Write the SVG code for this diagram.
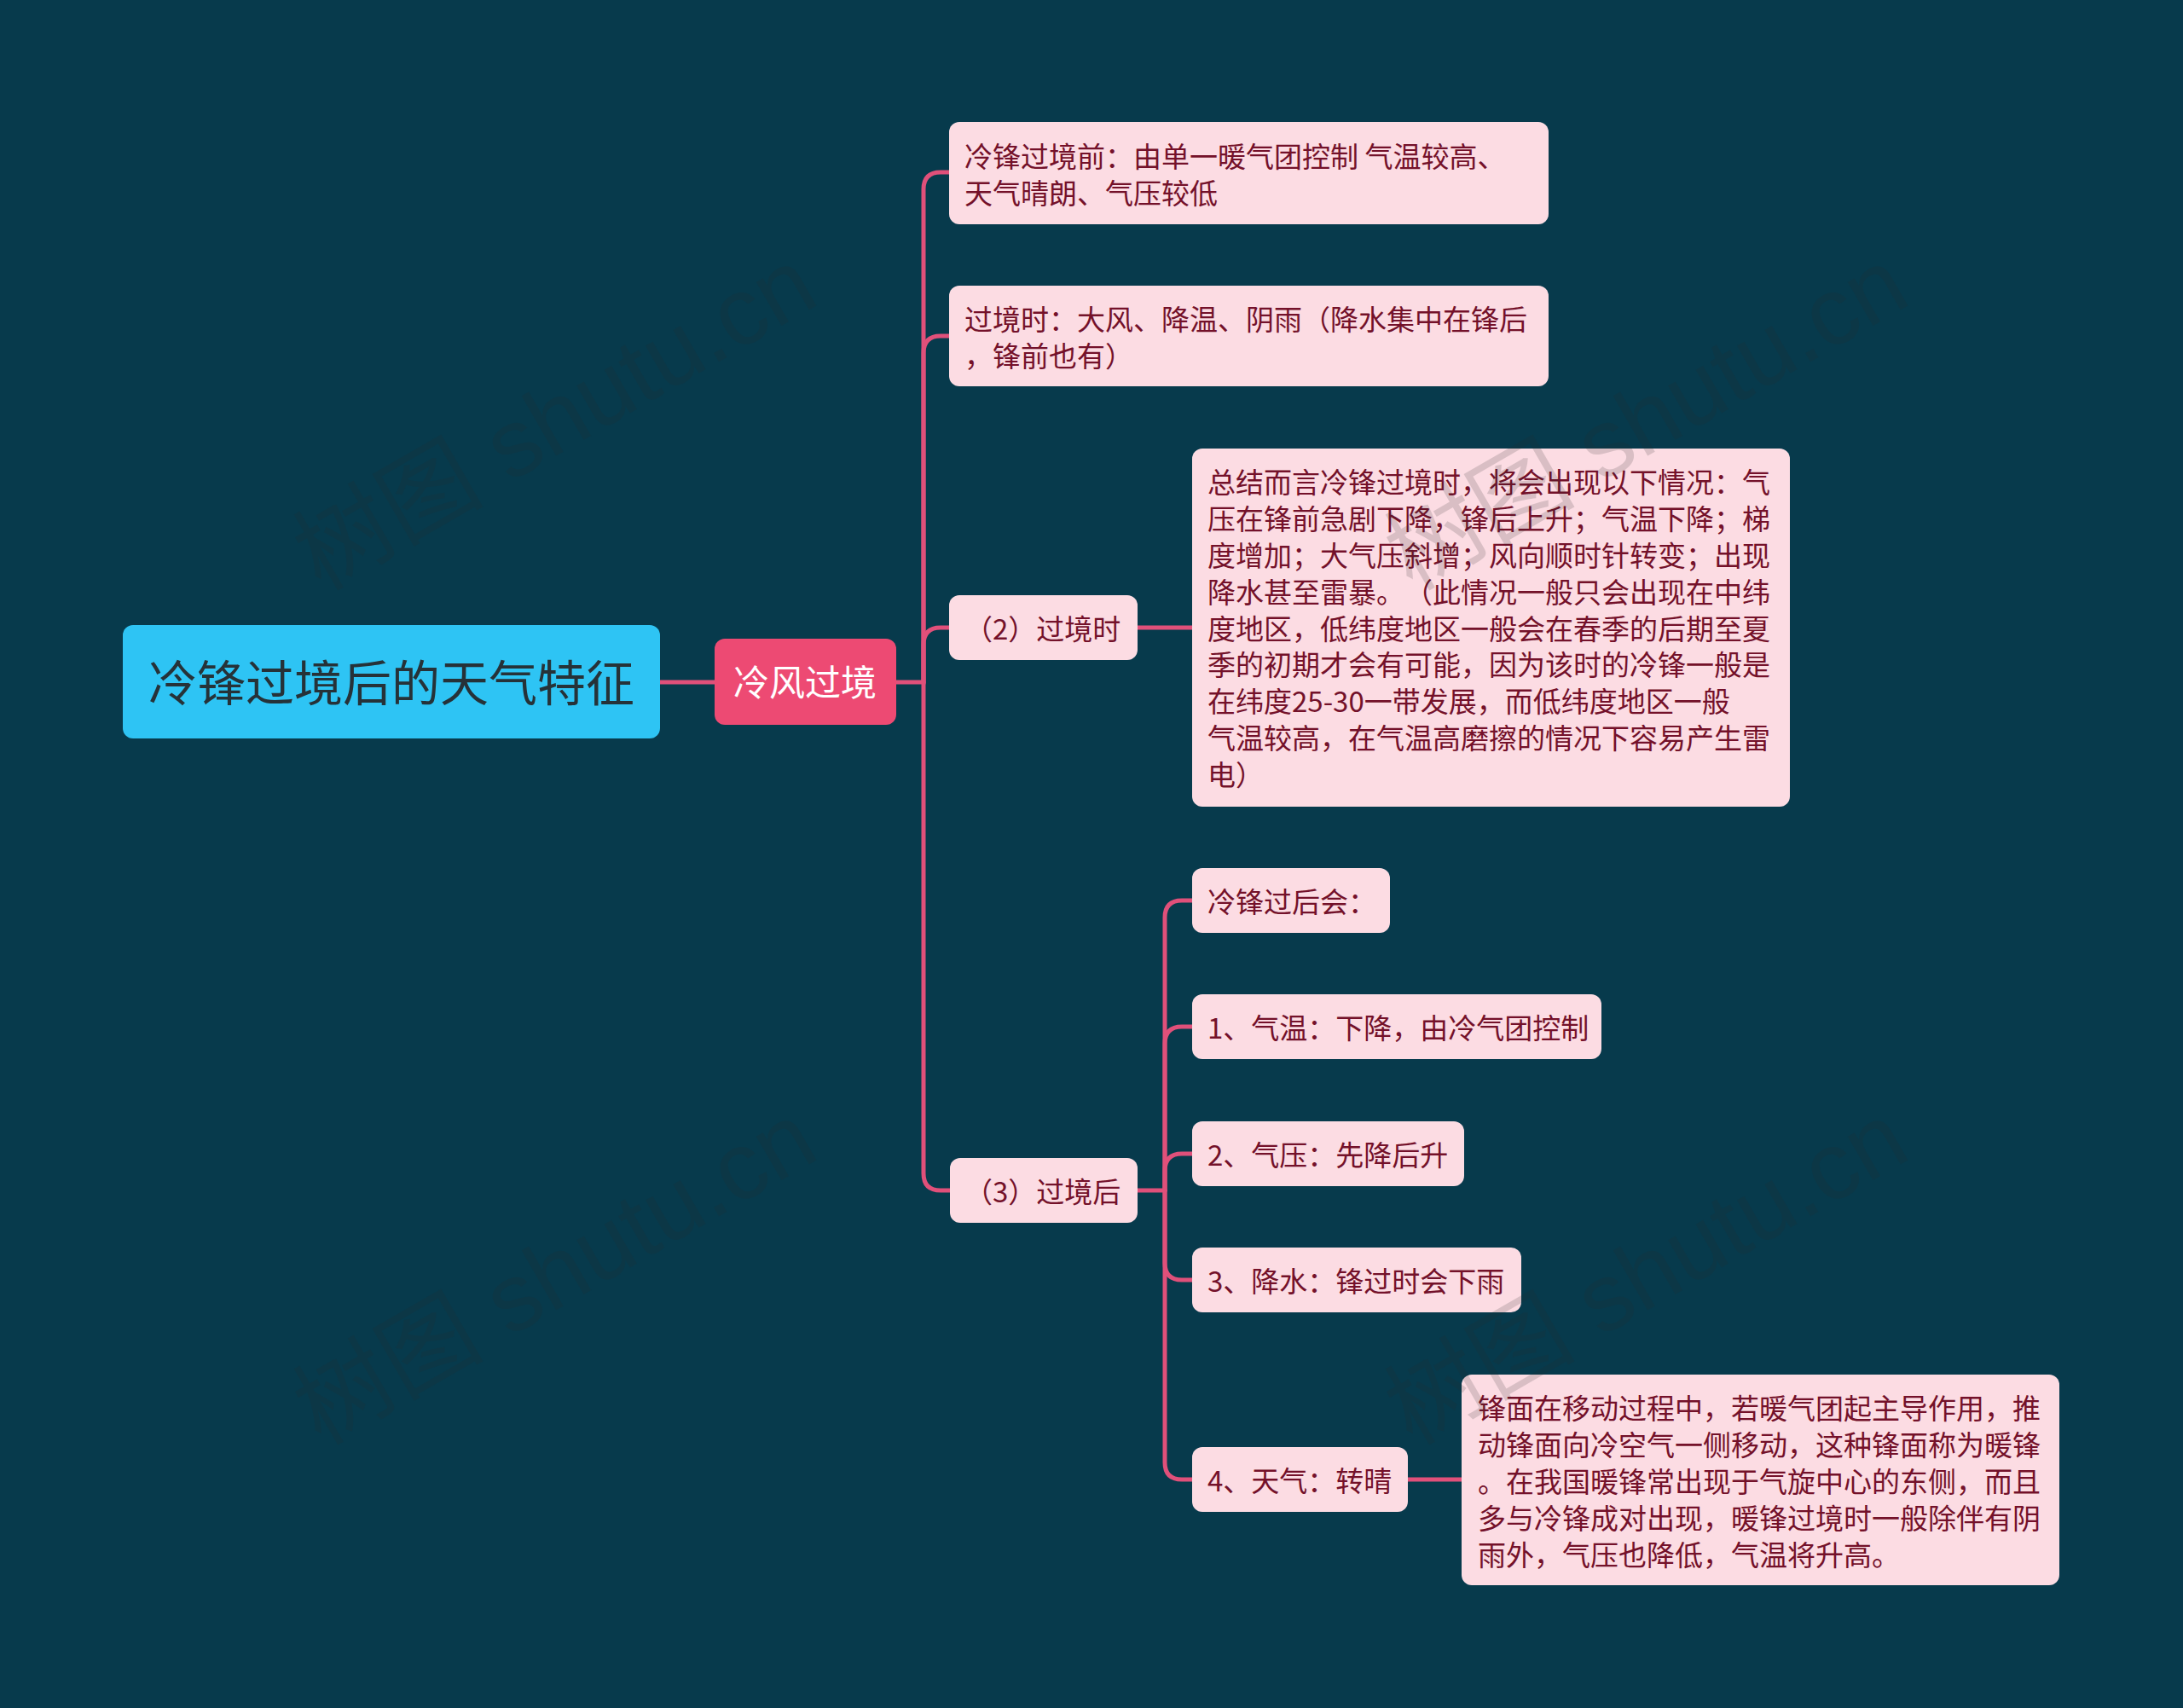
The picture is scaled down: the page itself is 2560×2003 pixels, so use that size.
<svg xmlns="http://www.w3.org/2000/svg" width="2560" height="2003" viewBox="0 0 2560 2003">
<style>
.t{font-family:"Noto Sans CJK SC","Liberation Sans",sans-serif;dominant-baseline:central;text-spacing-trim:space-all}
.leaf{fill:#FCDCE3}
.lt{font-size:33px;fill:#74112A}
.c{fill:none;stroke:#E0507A;stroke-width:5;stroke-linecap:round}
.wm{font-family:"Liberation Sans","Noto Sans CJK SC",sans-serif;font-size:112px;fill:#2a2a2a;opacity:0.16}
</style>
<rect x="0" y="0" width="2560" height="2003" fill="#073A4C"/>
<g id="connectors">
<path class="c" d="M774 800 H838"/>
<path class="c" d="M1051 800 H1083 V222 Q1083 202 1103 202 H1113"/>
<path class="c" d="M1083 800 V414 Q1083 394 1103 394 H1113"/>
<path class="c" d="M1083 800 V756 Q1083 736 1103 736 H1113"/>
<path class="c" d="M1083 800 V1376 Q1083 1396 1103 1396 H1114"/>
<path class="c" d="M1334 736 H1398"/>
<path class="c" d="M1334 1396 H1366"/>
<path class="c" d="M1366 1396 V1076 Q1366 1056 1386 1056 H1398"/>
<path class="c" d="M1366 1396 V1224 Q1366 1204 1386 1204 H1398"/>
<path class="c" d="M1366 1396 V1373 Q1366 1353 1386 1353 H1398"/>
<path class="c" d="M1366 1396 V1481 Q1366 1501 1386 1501 H1398"/>
<path class="c" d="M1366 1396 V1715 Q1366 1735 1386 1735 H1398"/>
<path class="c" d="M1651 1735 H1714"/>
</g>
<g id="root">
<rect x="144" y="733" width="630" height="133" rx="12" fill="#2EC4F4"/>
<text class="t" x="174" y="797" font-size="57" fill="#263238">冷锋过境后的天气特征</text>
</g>
<g id="n-lengfeng">
<rect x="838" y="749" width="213" height="101" rx="12" fill="#ED4A73"/>
<text class="t" x="860" y="797" font-size="42" fill="#FFFFFF">冷风过境</text>
</g>
<g id="n-before">
<rect class="leaf" x="1113" y="143" width="703" height="120" rx="12"/>
<text class="t lt" x="1131" y="182">冷锋过境前：由单一暖气团控制 气温较高、</text>
<text class="t lt" x="1131" y="225">天气晴朗、气压较低</text>
</g>
<g id="n-during-desc">
<rect class="leaf" x="1113" y="335" width="703" height="118" rx="12"/>
<text class="t lt" x="1131" y="373">过境时：大风、降温、阴雨（降水集中在锋后</text>
<text class="t lt" x="1131" y="416">，锋前也有）</text>
</g>
<g id="n-during">
<rect class="leaf" x="1113" y="698" width="221" height="76" rx="12"/>
<text class="t lt" x="1131" y="736">（2）过境时</text>
</g>
<g id="n-summary">
<rect class="leaf" x="1398" y="526" width="701" height="420" rx="12"/>
<text class="t lt" x="1416" y="564">总结而言冷锋过境时，将会出现以下情况：气</text>
<text class="t lt" x="1416" y="607">压在锋前急剧下降，锋后上升；气温下降；梯</text>
<text class="t lt" x="1416" y="650">度增加；大气压斜增；风向顺时针转变；出现</text>
<text class="t lt" x="1416" y="693">降水甚至雷暴。（此情况一般只会出现在中纬</text>
<text class="t lt" x="1416" y="736">度地区，低纬度地区一般会在春季的后期至夏</text>
<text class="t lt" x="1416" y="778">季的初期才会有可能，因为该时的冷锋一般是</text>
<text class="t lt" x="1416" y="821">在纬度25-30一带发展，而低纬度地区一般</text>
<text class="t lt" x="1416" y="864">气温较高，在气温高磨擦的情况下容易产生雷</text>
<text class="t lt" x="1416" y="907">电）</text>
</g>
<g id="n-after">
<rect class="leaf" x="1114" y="1358" width="220" height="76" rx="12"/>
<text class="t lt" x="1131" y="1396">（3）过境后</text>
</g>
<g id="n-after-intro">
<rect class="leaf" x="1398" y="1018" width="232" height="76" rx="12"/>
<text class="t lt" x="1416" y="1056">冷锋过后会：</text>
</g>
<g id="n-temp">
<rect class="leaf" x="1398" y="1166" width="480" height="76" rx="12"/>
<text class="t lt" x="1416" y="1204">1、气温：下降，由冷气团控制</text>
</g>
<g id="n-pressure">
<rect class="leaf" x="1398" y="1315" width="319" height="76" rx="12"/>
<text class="t lt" x="1416" y="1353">2、气压：先降后升</text>
</g>
<g id="n-rain">
<rect class="leaf" x="1398" y="1463" width="386" height="76" rx="12"/>
<text class="t lt" x="1416" y="1501">3、降水：锋过时会下雨</text>
</g>
<g id="n-weather">
<rect class="leaf" x="1398" y="1697" width="253" height="76" rx="12"/>
<text class="t lt" x="1416" y="1735">4、天气：转晴</text>
</g>
<g id="n-warmfront">
<rect class="leaf" x="1714" y="1612" width="701" height="247" rx="12"/>
<text class="t lt" x="1733" y="1650">锋面在移动过程中，若暖气团起主导作用，推</text>
<text class="t lt" x="1733" y="1693">动锋面向冷空气一侧移动，这种锋面称为暖锋</text>
<text class="t lt" x="1733" y="1736">。在我国暖锋常出现于气旋中心的东侧，而且</text>
<text class="t lt" x="1733" y="1779">多与冷锋成对出现，暖锋过境时一般除伴有阴</text>
<text class="t lt" x="1733" y="1822">雨外，气压也降低，气温将升高。</text>
</g>
<g id="watermarks">
<text class="wm" transform="translate(376,694) rotate(-30)">树图 shutu.cn</text>
<text class="wm" transform="translate(1656,694) rotate(-30)">树图 shutu.cn</text>
<text class="wm" transform="translate(376,1696) rotate(-30)">树图 shutu.cn</text>
<text class="wm" transform="translate(1656,1696) rotate(-30)">树图 shutu.cn</text>
</g>
</svg>
